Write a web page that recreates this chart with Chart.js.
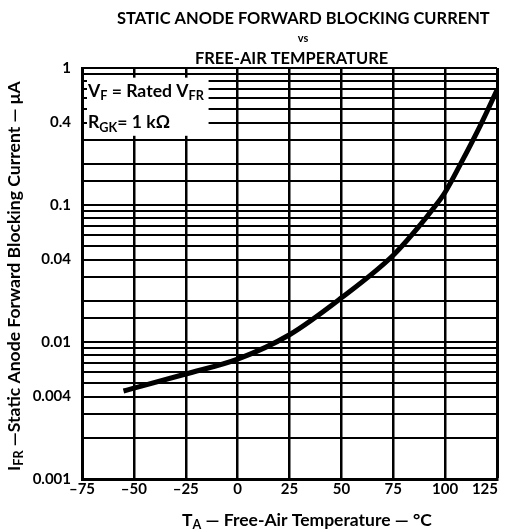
<!DOCTYPE html>
<html>
<head>
<meta charset="utf-8">
<script src="https://cdn.jsdelivr.net/npm/chart.js@4.4.0/dist/chart.umd.min.js"></script>
<style>
  html, body { margin: 0; padding: 0; background: #fff; }
  #wrap { width: 506px; height: 532px; position: relative; }
</style>
</head>
<body>
<div id="wrap"><canvas id="chart"></canvas></div>
<script>
// Curve
const temps = [-55, -50, -25, 0, 25, 50, 75, 88, 94, 100, 107.7, 117.3, 125];
const currents = [0.00439, 0.0046, 0.00584, 0.0075, 0.0113, 0.021, 0.043, 0.0715, 0.093, 0.124, 0.203, 0.39, 0.69];

// Axis labels
const yLabelValues = [1, 0.4, 0.1, 0.04, 0.01, 0.004, 0.001];
const yLabelText = ['1', '0.4', '0.1', '0.04', '0.01', '0.004', '0.001'];
const xTickValues = [-75, -50, -25, 0, 25, 50, 75, 100, 125];
const xTickText = ['\u201375', '\u201350', '\u201325', '0', '25', '50', '75', '100', '125'];

const FONT = 'Lato, "DejaVu Sans", sans-serif';

// draw text pieces one after another, with optional subscripts
function drawPieces(ctx, pieces, x, y, size) {
    let cx = x;
    pieces.forEach(p => {
        const s = p.sub ? size * 0.72 : size;
        ctx.font = 'bold ' + s + 'px ' + FONT;
        ctx.fillText(p.t, cx, y + (p.sub ? size * 0.3 : 0));
        cx += ctx.measureText(p.t).width;
    });
    return cx - x;
}
function piecesWidth(ctx, pieces, size) {
    let w = 0;
    pieces.forEach(p => {
        const s = p.sub ? size * 0.72 : size;
        ctx.font = 'bold ' + s + 'px ' + FONT;
        w += ctx.measureText(p.t).width;
    });
    return w;
}
// font size that makes a line a given width
function fitSize(ctx, pieces, width) {
    return 20 * width / piecesWidth(ctx, pieces, 20);
}

const textPlugin = {
    id: 'texts',
    beforeDatasetsDraw(chart) {
        const ctx = chart.ctx;
        const x = chart.scales.x, y = chart.scales.y;
        // white box for the conditions note
        const left = chart.chartArea.left + 5;
        const right = x.getPixelForValue(-14);
        const top = y.getPixelForValue(0.85);
        const bottom = y.getPixelForValue(0.32);
        ctx.save();
        ctx.fillStyle = '#fff';
        ctx.fillRect(left, top, right - left, bottom - top);
        ctx.fillStyle = '#000';
        ctx.textBaseline = 'middle';
        const l1 = [{t: 'V'}, {t: 'F', sub: true}, {t: ' = Rated V'}, {t: 'FR', sub: true}];
        const s = fitSize(ctx, l1, 116);
        drawPieces(ctx, l1, left + 1, y.getPixelForValue(0.68), s);
        const l2 = [{t: 'R'}, {t: 'GK', sub: true}, {t: '= 1 k\u03A9'}];
        drawPieces(ctx, l2, left + 1, y.getPixelForValue(0.4), s);
        ctx.restore();
    },
    afterDraw(chart) {
        const ctx = chart.ctx;
        const x = chart.scales.x;
        ctx.save();
        ctx.fillStyle = '#000';
        ctx.textBaseline = 'middle';

        // x tick labels, last one kept inside the frame
        ctx.textAlign = 'center';
        ctx.font = 'bold 15px ' + FONT;
        xTickValues.forEach((v, i) => {
            const w = ctx.measureText(xTickText[i]).width;
            const px = Math.min(x.getPixelForValue(v), chart.chartArea.right + 1 - w / 2);
            ctx.fillText(xTickText[i], px, 489);
        });

        // titles
        ctx.textAlign = 'left';
        const t1 = [{t: 'STATIC ANODE FORWARD BLOCKING CURRENT'}];
        const s1 = fitSize(ctx, t1, 373);
        drawPieces(ctx, t1, 117, 19, s1);
        const t2 = [{t: 'FREE-AIR TEMPERATURE'}];
        drawPieces(ctx, t2, 195, 59, s1);
        ctx.textAlign = 'center';
        ctx.font = 'bold 11px ' + FONT;
        ctx.fillText('vs', 303, 38);

        // x axis title
        ctx.textAlign = 'left';
        const xt = [{t: 'T'}, {t: 'A', sub: true}, {t: ' \u2014 Free-Air Temperature \u2014 \u00B0C'}];
        drawPieces(ctx, xt, 182, 520, fitSize(ctx, xt, 250));

        // y axis title (rotated)
        ctx.translate(14, 276);
        ctx.rotate(-Math.PI / 2);
        const yt = [{t: 'I'}, {t: 'FR', sub: true}, {t: ' \u2014Static Anode Forward Blocking Current \u2014 \u03BCA'}];
        const yw = 390;
        drawPieces(ctx, yt, -yw / 2, 0, fitSize(ctx, yt, yw));
        ctx.restore();
    }
};

new Chart(document.getElementById('chart'), {
    type: 'line',
    data: {
        datasets: [{
            data: temps.map((t, i) => ({x: t, y: currents[i]})),
            borderColor: '#000',
            borderWidth: 5,
            pointRadius: 0,
            cubicInterpolationMode: 'monotone',
            fill: false
        }]
    },
    options: {
        responsive: true,
        maintainAspectRatio: false,
        animation: false,
        layout: { padding: { top: 68, right: 9, left: 0, bottom: 0 } },
        plugins: { legend: { display: false }, title: { display: false }, tooltip: { enabled: false } },
        scales: {
            x: {
                type: 'linear',
                min: -75, max: 125,
                afterBuildTicks: scale => { scale.ticks = xTickValues.map(v => ({value: v})); },
                afterFit: scale => { scale.height = 53; scale.paddingLeft = 0; scale.paddingRight = 0; },
                grid: {
                    color: '#000',
                    lineWidth: ctx => (ctx.tick && ctx.tick.value === 125) ? 3 : 2.5,
                    drawTicks: false
                },
                border: { display: true, color: '#000', width: 3 },
                ticks: {
                    autoSkip: false,
                    maxRotation: 0,
                    callback: () => ''
                }
            },
            y: {
                type: 'logarithmic',
                min: 0.001, max: 1,
                afterFit: scale => { scale.width = 82; },
                grid: {
                    color: '#000',
                    lineWidth: 2,
                    drawTicks: false
                },
                border: { display: true, color: '#000', width: 3 },
                ticks: {
                    color: '#000',
                    padding: 11,
                    autoSkip: false,
                    font: { family: FONT, weight: 'bold', size: 15 },
                    callback: v => {
                        const i = yLabelValues.findIndex(l => Math.abs(l - v) / l < 1e-6);
                        return i >= 0 ? yLabelText[i] : '';
                    }
                }
            }
        }
    },
    plugins: [textPlugin]
});
</script>
</body>
</html>
